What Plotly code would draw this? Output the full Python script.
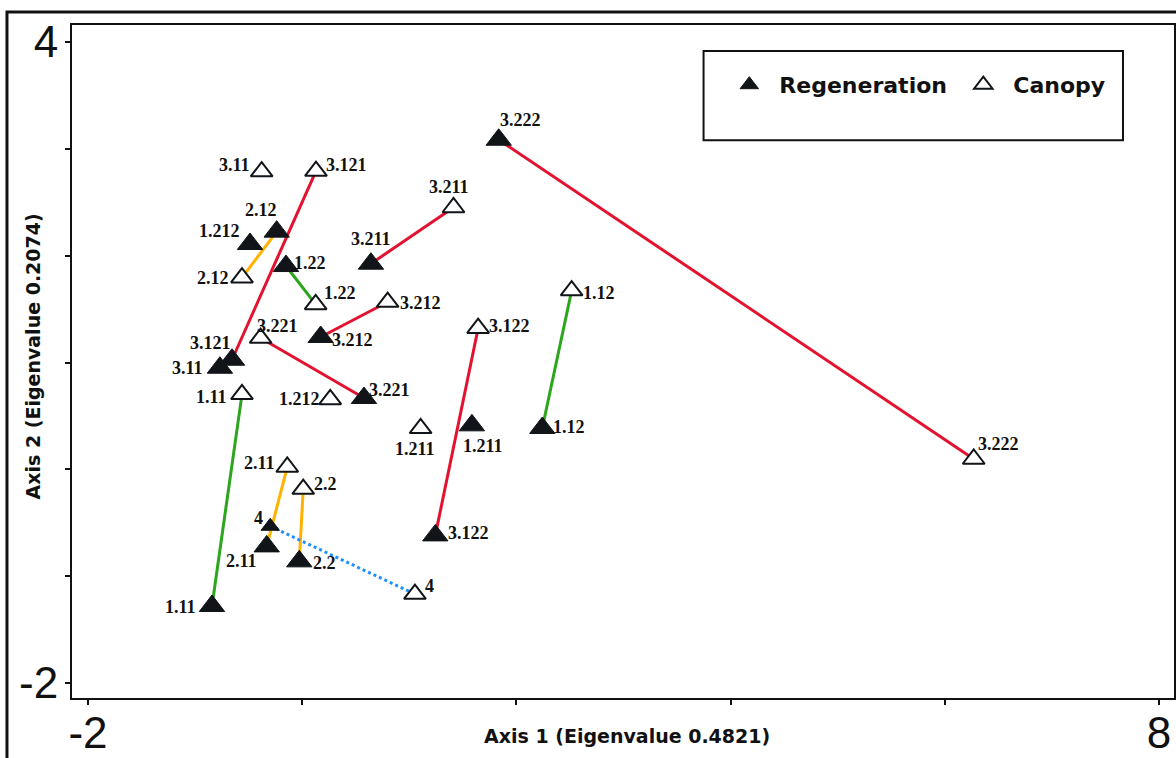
import plotly.graph_objects as go

# ---------------- data ----------------
reg_labels = ["3.222", "3.211", "2.12", "1.212", "1.22", "3.212", "3.121", "3.11",
              "3.221", "1.211", "1.12", "3.122", "4", "2.11", "2.2", "1.11"]
reg_x = [1.835, 0.642, -0.238, -0.487, -0.151, 0.173, -0.655, -0.768,
         0.577, 1.585, 2.242, 1.243, -0.298, -0.331, -0.027, -0.842]
reg_y = [3.085, 1.925, 2.225, 2.109, 1.903, 1.239, 1.026, 0.951,
         0.668, 0.412, 0.387, -0.618, -0.533, -0.721, -0.861, -1.279]

can_labels = ["3.11", "3.121", "3.211", "2.12", "1.22", "3.212", "1.12", "3.122",
              "3.221", "1.11", "1.212", "1.211", "3.222", "2.11", "2.2", "4"]
can_x = [-0.378, 0.129, 1.413, -0.562, 0.126, 0.798, 2.516, 1.643,
         -0.388, -0.562, 0.262, 1.106, 6.270, -0.139, 0.010, 1.053]
can_y = [2.787, 2.792, 2.451, 1.794, 1.544, 1.566, 1.673, 1.321,
         1.229, 0.702, 0.655, 0.384, 0.097, 0.022, -0.184, -1.167]

# pairs connected regeneration -> canopy, by group
pairs_red = ["3.222", "3.211", "3.121", "3.212", "3.221", "3.122"]
pairs_green = ["1.22", "1.11", "1.12"]
pairs_orange = ["2.12", "2.11", "2.2"]
pairs_blue = ["4"]

x_tickvals = [-2, 0, 2, 4, 6, 8]
x_ticktext = ["-2", "", "", "", "", "8"]
y_tickvals = [-2, -1, 0, 1, 2, 3, 4]
y_ticktext = ["-2", "", "", "", "", "", "4"]

x_title = "Axis 1 (Eigenvalue 0.4821)"
y_title = "Axis 2 (Eigenvalue 0.2074)"

# ---------------- styles ----------------
reg_label_off = {  # pixel offsets (dx, dy) of the label centre from the marker
    "3.222": (22, -20), "3.211": (0, -25), "2.12": (-16, -22), "1.212": (-31, -13),
    "1.22": (24, -3), "3.212": (32, 3), "3.121": (-22, -17), "3.11": (-32, 0),
    "3.221": (26, -8), "1.211": (11, 21), "1.12": (27, -1), "3.122": (33, -2),
    "4": (-12, -8), "2.11": (-25, 15), "2.2": (25, 2), "1.11": (-31, 1),
}
can_label_off = {
    "3.11": (-27, -7), "3.121": (31, -6), "3.211": (-5, -20), "2.12": (-29, 0),
    "1.22": (24, -11), "3.212": (33, 1), "1.12": (27, 2), "3.122": (31, -2),
    "3.221": (17, -12), "1.11": (-30, 3), "1.212": (-31, 0), "1.211": (-6, 21),
    "3.222": (25, -15), "2.11": (-28, -4), "2.2": (22, -5), "4": (15, -8),
}

RED = "#E3122F"
GREEN = "#2CA61C"
ORANGE = "#FFB300"
BLUE = "#1E8FFF"
INK = "#111418"

fig = go.Figure()

reg_pos = {l: (x, y) for l, x, y in zip(reg_labels, reg_x, reg_y)}
can_pos = {l: (x, y) for l, x, y in zip(can_labels, can_x, can_y)}


def add_pairs(names, color, dash):
    xs, ys = [], []
    for n in names:
        xs += [reg_pos[n][0], can_pos[n][0], None]
        ys += [reg_pos[n][1], can_pos[n][1], None]
    fig.add_trace(go.Scatter(x=xs, y=ys, mode="lines",
                             line=dict(color=color, width=3, dash=dash),
                             showlegend=False, hoverinfo="skip"))


add_pairs(pairs_red, RED, "solid")
add_pairs(pairs_green, GREEN, "solid")
add_pairs(pairs_orange, ORANGE, "solid")
add_pairs(pairs_blue, BLUE, "dot")

reg_sizes = [16 if l == "4" else 22 for l in reg_labels]

fig.add_trace(go.Scatter(
    x=reg_x, y=reg_y, mode="markers", name="Regeneration",
    marker=dict(symbol="triangle-up", size=reg_sizes, color=INK, opacity=1,
                line=dict(color=INK, width=1)),
))
fig.add_trace(go.Scatter(
    x=can_x, y=can_y, mode="markers", name="Canopy",
    marker=dict(symbol="triangle-up", size=19, color="white", opacity=1,
                line=dict(color=INK, width=2)),
))

label_font = dict(family="Liberation Serif", size=18, color="#111111", weight="bold")
annotations = []
for lab, x, y in zip(reg_labels, reg_x, reg_y):
    dx, dy = reg_label_off[lab]
    annotations.append(dict(x=x, y=y, text=lab, showarrow=False, xshift=dx, yshift=-dy,
                            xanchor="center", yanchor="middle", font=label_font))
for lab, x, y in zip(can_labels, can_x, can_y):
    dx, dy = can_label_off[lab]
    annotations.append(dict(x=x, y=y, text=lab, showarrow=False, xshift=dx, yshift=-dy,
                            xanchor="center", yanchor="middle", font=label_font))

title_font = dict(family="DejaVu Sans", size=19, color="#111111", weight="bold")
annotations.append(dict(xref="paper", yref="paper", x=0.504, y=-0.0565, text=x_title,
                        showarrow=False, xanchor="center", yanchor="middle", font=title_font))
annotations.append(dict(xref="paper", yref="paper", x=-0.0354, y=0.5074, text=y_title,
                        showarrow=False, xanchor="center", yanchor="middle", textangle=-90,
                        font=title_font))

shapes = [
    # outer frame
    dict(type="rect", xref="paper", yref="paper", x0=-0.059, x1=1.02, y0=-0.2, y1=1.0193,
         line=dict(color="#111111", width=3), layer="above"),
    # legend box
    dict(type="rect", xref="paper", yref="paper", x0=0.5731, x1=0.9537, y0=0.8289, y1=0.9613,
         line=dict(color="#111111", width=2), layer="above"),
]

fig.update_layout(
    width=1176, height=758,
    margin=dict(l=72, r=2, t=25, b=60, autoexpand=False),
    paper_bgcolor="white", plot_bgcolor="white",
    annotations=annotations, shapes=shapes,
    showlegend=True,
    legend=dict(orientation="h", x=0.5874, y=0.911, xanchor="left", yanchor="middle",
                bgcolor="rgba(0,0,0,0)", borderwidth=0, entrywidth=169, itemwidth=50,
                font=dict(family="DejaVu Sans", size=22, color="#111111", weight="bold")),
    xaxis=dict(range=[-2.149, 8.14], tickvals=x_tickvals, ticktext=x_ticktext,
               automargin=False,
               showgrid=False, zeroline=False, showline=True, linecolor="#111111",
               linewidth=2, mirror=True, ticks="outside", ticklen=5, tickwidth=2,
               tickcolor="#111111", ticklabelstandoff=-10,
               tickfont=dict(family="Liberation Sans", size=44, color="#111111")),
    yaxis=dict(range=[-2.140, 4.159], tickvals=y_tickvals, ticktext=y_ticktext,
               automargin=False,
               showgrid=False, zeroline=False, showline=True, linecolor="#111111",
               linewidth=2, mirror=True, ticks="outside", ticklen=5, tickwidth=2,
               tickcolor="#111111", ticklabelstandoff=-2,
               tickfont=dict(family="Liberation Sans", size=44, color="#111111")),
)

fig.write_html("out.html", config={"displayModeBar": False},
               post_script="document.body.style.margin='0';document.body.style.overflow='hidden';")
